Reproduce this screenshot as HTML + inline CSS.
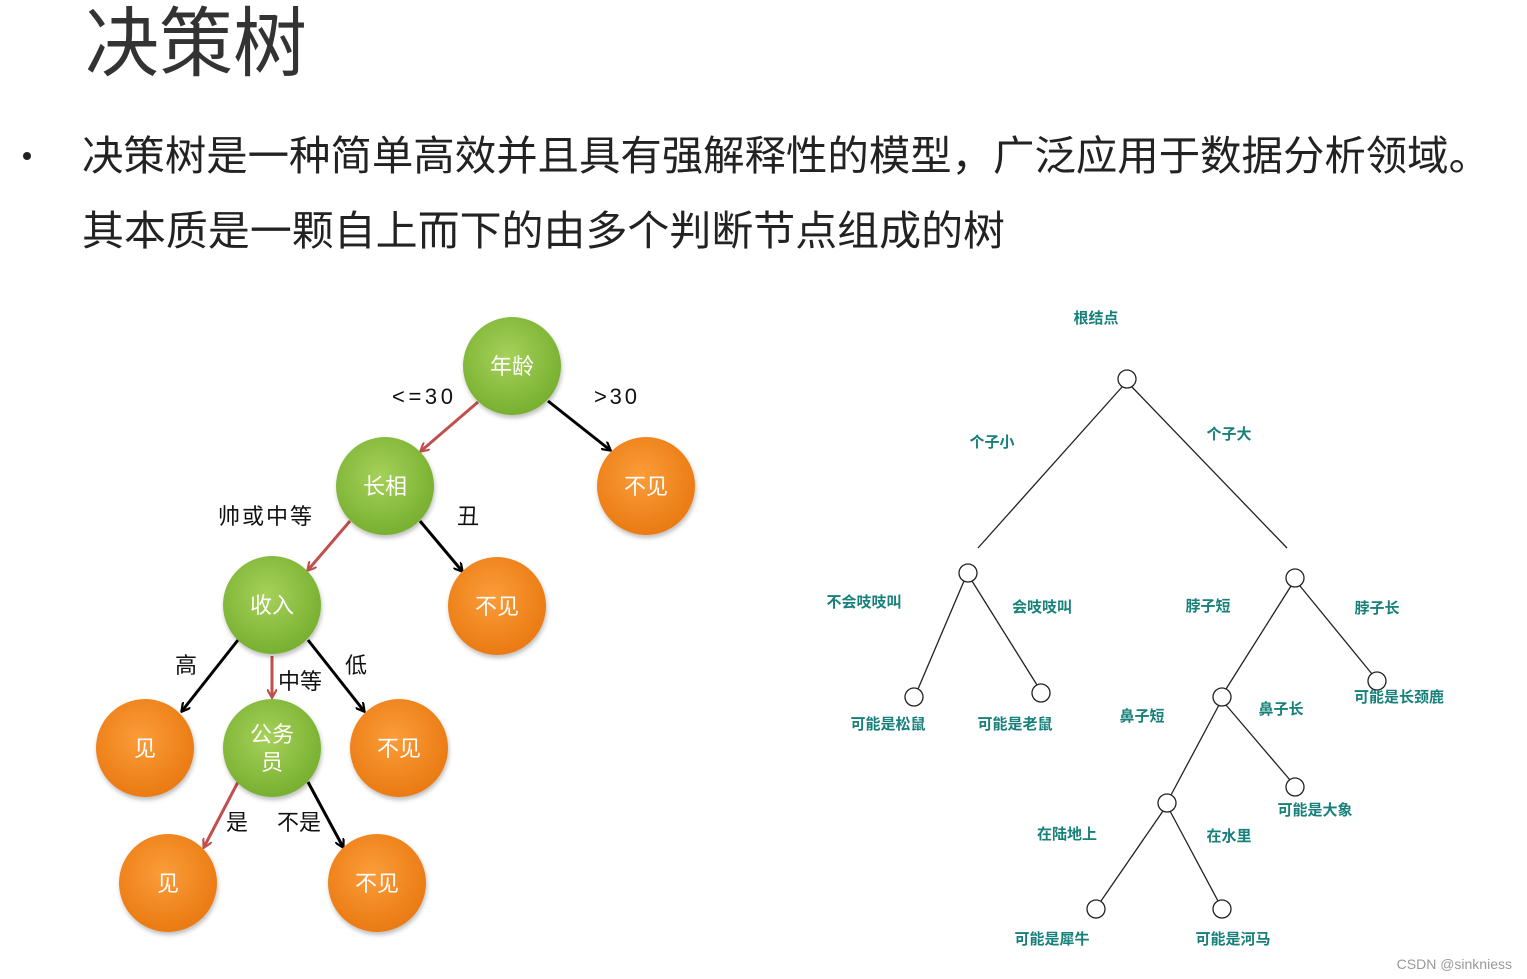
<!DOCTYPE html>
<html><head><meta charset="utf-8"><style>
body{margin:0;background:#fff;width:1527px;height:979px;overflow:hidden;font-family:"Liberation Sans","Noto Sans CJK SC",sans-serif}
</style></head><body>
<svg width="1527" height="979" xmlns="http://www.w3.org/2000/svg" style="position:absolute;left:0;top:0" font-family="Liberation Sans, Noto Sans CJK SC, sans-serif">
<defs>
<radialGradient id="g" cx="45%" cy="40%" r="60%"><stop offset="0" stop-color="#a6d15a"/><stop offset="1" stop-color="#78b030"/></radialGradient>
<radialGradient id="o" cx="45%" cy="40%" r="60%"><stop offset="0" stop-color="#fb9d3a"/><stop offset="1" stop-color="#ea7a12"/></radialGradient>
<filter id="sh" x="-20%" y="-20%" width="140%" height="140%"><feDropShadow dx="1" dy="3" stdDeviation="2" flood-color="#000" flood-opacity="0.25"/></filter>
<marker id="ab" markerWidth="10" markerHeight="10" refX="8" refY="5" orient="auto" markerUnits="userSpaceOnUse"><path d="M0,0 L9,5 L0,10" fill="none" stroke="#000" stroke-width="2.2"/></marker>
<marker id="ar" markerWidth="10" markerHeight="10" refX="8" refY="5" orient="auto" markerUnits="userSpaceOnUse"><path d="M0,0 L9,5 L0,10" fill="none" stroke="#c0504d" stroke-width="2.2"/></marker>
</defs>
<text x="85" y="70" font-size="76" fill="#333" textLength="222" lengthAdjust="spacingAndGlyphs">决策树</text>
<circle cx="27" cy="156" r="4" fill="#222"/>
<text x="82" y="170" font-size="41" fill="#222" textLength="1408" lengthAdjust="spacingAndGlyphs">决策树是一种简单高效并且具有强解释性的模型，广泛应用于数据分析领域。</text>
<text x="82" y="245" font-size="41" fill="#222" textLength="923" lengthAdjust="spacingAndGlyphs">其本质是一颗自上而下的由多个判断节点组成的树</text>

<g stroke-width="3" fill="none">
<line x1="478" y1="402" x2="421" y2="451" stroke="#c0504d" marker-end="url(#ar)"/>
<line x1="548" y1="401" x2="610" y2="450" stroke="#000" marker-end="url(#ab)"/>
<line x1="350" y1="521" x2="308" y2="570" stroke="#c0504d" marker-end="url(#ar)"/>
<line x1="420" y1="521" x2="462" y2="571" stroke="#000" marker-end="url(#ab)"/>
<line x1="238" y1="640" x2="182" y2="711" stroke="#000" marker-end="url(#ab)"/>
<line x1="272" y1="656" x2="272" y2="697" stroke="#c0504d" marker-end="url(#ar)"/>
<line x1="308" y1="640" x2="364" y2="711" stroke="#000" marker-end="url(#ab)"/>
<line x1="238" y1="782" x2="204" y2="847" stroke="#c0504d" marker-end="url(#ar)"/>
<line x1="308" y1="782" x2="343" y2="847" stroke="#000" marker-end="url(#ab)"/>
</g>
<g filter="url(#sh)">
<circle cx="512" cy="366" r="49" fill="url(#g)"/>
<circle cx="385" cy="486" r="49" fill="url(#g)"/>
<circle cx="272" cy="605" r="49" fill="url(#g)"/>
<circle cx="272" cy="748" r="49" fill="url(#g)"/>
<circle cx="646" cy="486" r="49" fill="url(#o)"/>
<circle cx="497" cy="606" r="49" fill="url(#o)"/>
<circle cx="145" cy="748" r="49" fill="url(#o)"/>
<circle cx="399" cy="748" r="49" fill="url(#o)"/>
<circle cx="168" cy="883" r="49" fill="url(#o)"/>
<circle cx="377" cy="883" r="49" fill="url(#o)"/>
</g>
<g fill="#fff" font-size="22" text-anchor="middle">
<text x="512" y="374">年龄</text><text x="385" y="494">长相</text><text x="272" y="613">收入</text>
<text x="272" y="742">公务</text><text x="272" y="770">员</text>
<text x="646" y="494">不见</text><text x="497" y="614">不见</text><text x="145" y="756">见</text>
<text x="399" y="756">不见</text><text x="168" y="891">见</text><text x="377" y="891">不见</text>
</g>
<g fill="#111" font-size="22">
<text x="392" y="404" textLength="61" lengthAdjust="spacing">&lt;=30</text><text x="594" y="404" textLength="43" lengthAdjust="spacing">&gt;30</text>
<text x="218" y="524" textLength="94">帅或中等</text><text x="457" y="524">丑</text>
<text x="175" y="673">高</text><text x="278" y="689">中等</text><text x="345" y="673">低</text>
<text x="226" y="830">是</text><text x="277" y="830">不是</text>
</g>

<g stroke="#222" stroke-width="1.3" fill="none">
<line x1="1122" y1="387" x2="978" y2="548"/><line x1="1132" y1="387" x2="1287" y2="548"/>
<line x1="964" y1="581" x2="918" y2="689"/><line x1="972" y1="581" x2="1037" y2="685"/>
<line x1="1291" y1="586" x2="1226" y2="689"/><line x1="1300" y1="586" x2="1372" y2="674"/>
<line x1="1219" y1="705" x2="1171" y2="795"/><line x1="1226" y1="705" x2="1290" y2="780"/>
<line x1="1163" y1="811" x2="1101" y2="901"/><line x1="1170" y1="811" x2="1218" y2="901"/>
<g fill="#fff">
<circle cx="1127" cy="379" r="9"/><circle cx="968" cy="573" r="9"/><circle cx="1295" cy="578" r="9"/>
<circle cx="914" cy="697" r="9"/><circle cx="1041" cy="693" r="9"/><circle cx="1222" cy="697" r="9"/>
<circle cx="1377" cy="681" r="9"/><circle cx="1167" cy="803" r="9"/><circle cx="1295" cy="787" r="9"/>
<circle cx="1096" cy="909" r="9"/><circle cx="1222" cy="909" r="9"/>
</g></g>
<g fill="#17807a" font-size="15" font-weight="bold" text-anchor="middle">
<text x="1096" y="323">根结点</text>
<text x="992" y="447">个子小</text><text x="1229" y="439">个子大</text>
<text x="864" y="607">不会吱吱叫</text><text x="1042" y="612">会吱吱叫</text>
<text x="1208" y="611">脖子短</text><text x="1377" y="613">脖子长</text>
<text x="888" y="729">可能是松鼠</text><text x="1015" y="729">可能是老鼠</text>
<text x="1142" y="721">鼻子短</text><text x="1281" y="714">鼻子长</text>
<text x="1399" y="702">可能是长颈鹿</text><text x="1315" y="815">可能是大象</text>
<text x="1067" y="839">在陆地上</text><text x="1229" y="841">在水里</text>
<text x="1052" y="944">可能是犀牛</text><text x="1233" y="944">可能是河马</text>
</g>
<text x="1512" y="969" font-size="14" fill="#999" text-anchor="end">CSDN @sinkniess</text>
</svg>
</body></html>
